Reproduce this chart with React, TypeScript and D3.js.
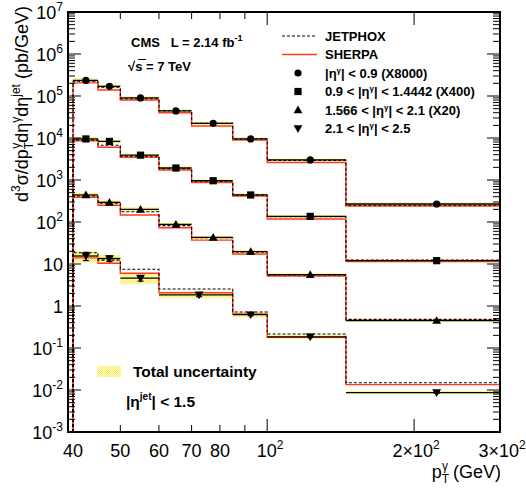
import React from "react";
import * as d3 from "d3";

// bin edges (GeV); the most forward photon bin merges 60-85
const binEdges = [40, 45, 50, 60, 70, 85, 100, 145, 300];
const binEdgesFwd = [40, 45, 50, 60, 85, 100, 145, 300];

// measured cross sections (already scaled)
const dataCentral = [2.35e5, 1.7e5, 9.0e4, 4.4e4, 2.23e4, 9.5e3, 3.0e3, 268];
const dataMid = [9.5e3, 8.3e3, 3.9e3, 1.93e3, 960, 440, 136, 12.0];
const dataEndcap = [440, 294, 200, 88, 43, 19.7, 5.6, 0.45];
const dataFwd = [15.5, 13.5, 4.6, 1.85, 0.62, 0.185, 0.0087];

const jetphoxCentral = [2.24e5, 1.61e5, 8.6e4, 4.47e4, 2.23e4, 9.47e3, 2.94e3, 250];
const jetphoxMid = [9.0e3, 6.7e3, 3.7e3, 1.86e3, 930, 440, 134, 12.4];
const jetphoxEndcap = [416, 279, 176, 82, 42, 19.3, 5.5, 0.48];
const jetphoxFwd = [18.5, 12.4, 7.5, 2.54, 0.72, 0.215, 0.0149];

const sherpaCentral = [2.05e5, 1.39e5, 8.0e4, 4.0e4, 1.93e4, 8.9e3, 2.6e3, 240];
const sherpaMid = [8.6e3, 6.0e3, 3.47e3, 1.73e3, 865, 417, 118, 11.5];
const sherpaEndcap = [387, 250, 147, 73, 37, 17.3, 5.2, 0.46];
const sherpaFwd = [14.0, 10.4, 6.0, 2.07, 0.65, 0.18, 0.0134];

// total uncertainty (relative)
const uncCentral = [0.12, 0.1, 0.09, 0.09, 0.09, 0.09, 0.08, 0.08];
const uncMid = [0.12, 0.1, 0.09, 0.09, 0.09, 0.09, 0.08, 0.08];
const uncEndcap = [0.13, 0.13, 0.13, 0.1, 0.1, 0.1, 0.08, 0.08];
const uncFwd = [0.3, 0.22, 0.28, 0.18, 0.14, 0.11, 0.09];
// statistical (relative), only visible for the forward bin
const statFwd = [0.22, 0.15, 0.15, 0.1, 0.05, 0.04, 0.04];

const series = [
  { edges: binEdges, data: dataCentral, jet: jetphoxCentral, sh: sherpaCentral, unc: uncCentral, stat: null, marker: "circle" },
  { edges: binEdges, data: dataMid, jet: jetphoxMid, sh: sherpaMid, unc: uncMid, stat: null, marker: "square" },
  { edges: binEdges, data: dataEndcap, jet: jetphoxEndcap, sh: sherpaEndcap, unc: uncEndcap, stat: null, marker: "up" },
  { edges: binEdgesFwd, data: dataFwd, jet: jetphoxFwd, sh: sherpaFwd, unc: uncFwd, stat: statFwd, marker: "down" },
];

const yTickExps = [7, 6, 5, 4, 3, 2, 1, 0, -1, -2, -3];
const xMinor = [50, 60, 70, 80, 90];
const xMajor = [100, 200];

const W = 526;
const H = 488;
const left = 68, right = 500, top = 12, bottom = 432;
const font = "'Liberation Sans', Arial, sans-serif";
const RED = "#ff3a1e";

const x = d3.scaleLog().domain([39.06, 300]).range([left, right]);
const y = d3.scaleLog().domain([1e-3, 1e7]).range([bottom, top]);

function histPath(edges: number[], vals: number[]) {
  let p = `M${x(edges[0])},${y(1e-3)}`;
  vals.forEach((v, i) => {
    p += `L${x(edges[i])},${y(v)}L${x(edges[i + 1])},${y(v)}`;
  });
  p += `L${x(edges[edges.length - 1])},${y(1e-3)}`;
  return p;
}

function Marker({ type, cx, cy }: { type: string; cx: number; cy: number }) {
  if (type === "circle") return <circle cx={cx} cy={cy} r={3.6} fill="#000" />;
  if (type === "square") return <rect x={cx - 3.6} y={cy - 3.6} width={7.2} height={7.2} fill="#000" />;
  const s = 4.4;
  if (type === "up")
    return <path d={`M${cx},${cy - s}L${cx + s},${cy + s * 0.75}L${cx - s},${cy + s * 0.75}Z`} fill="#000" />;
  return <path d={`M${cx},${cy + s}L${cx + s},${cy - s * 0.75}L${cx - s},${cy - s * 0.75}Z`} fill="#000" />;
}

function Eta({ sup, rest }: { sup: string; rest: string }) {
  return (
    <>
      |η<tspan dy={-5} fontSize={8}>{sup}</tspan>
      <tspan dy={5}>{rest}</tspan>
    </>
  );
}

export default function App() {
  const legendRows = [36, 54.5, 73, 91.5, 110, 128.5];
  return (
    <div style={{ position: "absolute", left: 0, top: 0 }}>
      <svg width={W} height={H} style={{ display: "block", background: "#fff" }} fontFamily={font}>
        <defs>
          <pattern id="unc" width={2} height={2} patternUnits="userSpaceOnUse">
            <rect width={2} height={2} fill="#fffcc4" />
            <rect width={1} height={1} fill="#f8ee6a" />
            <rect x={1} y={1} width={1} height={1} fill="#f8ee6a" />
          </pattern>
          <clipPath id="plot">
            <rect x={left} y={top} width={right - left} height={bottom - top} />
          </clipPath>
        </defs>

        <g clipPath="url(#plot)">
          {/* uncertainty bands */}
          {series.map((s, si) =>
            s.data.map((v, i) => (
              <rect
                key={`b${si}-${i}`}
                x={x(s.edges[i])}
                width={x(s.edges[i + 1]) - x(s.edges[i])}
                y={y(v * (1 + s.unc[i]))}
                height={y(v * (1 - s.unc[i])) - y(v * (1 + s.unc[i]))}
                fill="url(#unc)"
              />
            ))
          )}
          {/* SHERPA */}
          {series.map((s, si) => (
            <path key={`s${si}`} d={histPath(s.edges, s.sh)} fill="none" stroke={RED} strokeWidth={1.4} />
          ))}
          {/* JETPHOX */}
          {series.map((s, si) => (
            <path key={`j${si}`} d={histPath(s.edges, s.jet)} fill="none" stroke="#000" strokeWidth={1.1} strokeDasharray="3,2" />
          ))}
          {/* data */}
          {series.map((s, si) =>
            s.data.map((v, i) => {
              const cx = x((s.edges[i] + s.edges[i + 1]) / 2);
              const cy = y(v);
              return (
                <g key={`d${si}-${i}`}>
                  <line x1={x(s.edges[i])} x2={x(s.edges[i + 1])} y1={cy} y2={cy} stroke="#000" strokeWidth={1.3} />
                  {s.stat && (
                    <g stroke="#000" strokeWidth={1.2}>
                      <line x1={cx} x2={cx} y1={y(v * (1 + s.stat[i]))} y2={y(v * (1 - s.stat[i]))} />
                      <line x1={cx - 3} x2={cx + 3} y1={y(v * (1 + s.stat[i]))} y2={y(v * (1 + s.stat[i]))} />
                      <line x1={cx - 3} x2={cx + 3} y1={y(v * (1 - s.stat[i]))} y2={y(v * (1 - s.stat[i]))} />
                    </g>
                  )}
                  <Marker type={s.marker} cx={cx} cy={cy} />
                </g>
              );
            })
          )}
        </g>

        {/* axes frame */}
        <rect x={left} y={top} width={right - left} height={bottom - top} fill="none" stroke="#000" strokeWidth={2} />

        {/* ticks */}
        <g stroke="#000" strokeWidth={1}>
          {yTickExps.map((e) => (
            <g key={`yt${e}`}>
              <line x1={left} x2={left + 13} y1={y(10 ** e)} y2={y(10 ** e)} />
              <line x1={right} x2={right - 13} y1={y(10 ** e)} y2={y(10 ** e)} />
            </g>
          ))}
          {d3.range(-3, 7).flatMap((e) =>
            d3.range(2, 10).map((k) => (
              <g key={`ym${e}-${k}`}>
                <line x1={left} x2={left + 7} y1={y(k * 10 ** e)} y2={y(k * 10 ** e)} />
                <line x1={right} x2={right - 7} y1={y(k * 10 ** e)} y2={y(k * 10 ** e)} />
              </g>
            ))
          )}
          {xMinor.map((v) => (
            <g key={`xm${v}`}>
              <line x1={x(v)} x2={x(v)} y1={bottom} y2={bottom - 7} />
              <line x1={x(v)} x2={x(v)} y1={top} y2={top + 7} />
            </g>
          ))}
          {xMajor.map((v) => (
            <g key={`xM${v}`}>
              <line x1={x(v)} x2={x(v)} y1={bottom} y2={bottom - 13} />
              <line x1={x(v)} x2={x(v)} y1={top} y2={top + 13} />
            </g>
          ))}
        </g>

        {/* y tick labels */}
        <g fontSize={18} textAnchor="end" fill="#000">
          {yTickExps.map((e) => (
            <text key={`yl${e}`} x={63} y={y(10 ** e) + 6.5}>
              {e === 0 ? "1" : "10"}
              {e !== 0 && e !== 1 && (
                <tspan dy={-8} fontSize={12}>
                  {e < 0 ? `-${-e}` : `${e}`}
                </tspan>
              )}
            </text>
          ))}
        </g>

        {/* x tick labels */}
        <g fontSize={18} textAnchor="middle" fill="#000">
          {[40, 50, 60, 70, 80].map((v) => (
            <text key={`xl${v}`} x={x(v)} y={457}>
              {v}
            </text>
          ))}
          <text x={x(100) + 3} y={457}>
            10<tspan dy={-8} fontSize={12}>2</tspan>
          </text>
          <text x={x(200) + 2} y={457}>
            2×10<tspan dy={-8} fontSize={12}>2</tspan>
          </text>
          <text x={x(300) + 2} y={457}>
            3×10<tspan dy={-8} fontSize={12}>2</tspan>
          </text>
        </g>

        {/* axis titles */}
        <text x={501} y={478} fontSize={18} textAnchor="end">
          p<tspan dy={5} fontSize={12}>T</tspan>
          <tspan dx={-7} dy={-13} fontSize={12}>γ</tspan>
          <tspan dy={8}> (GeV)</tspan>
        </text>
        <text transform="rotate(-90)" x={-6} y={28} fontSize={18} textAnchor="end">
          d<tspan dy={-8} fontSize={12}>3</tspan>
          <tspan dy={8}>σ/dp</tspan>
          <tspan dy={5} fontSize={12}>T</tspan>
          <tspan dx={-7} dy={-13} fontSize={12}>γ</tspan>
          <tspan dy={8}>dη</tspan>
          <tspan dy={-8} fontSize={12}>γ</tspan>
          <tspan dy={8}>dη</tspan>
          <tspan dy={-8} fontSize={12}>jet</tspan>
          <tspan dy={8}> (pb/GeV)</tspan>
        </text>

        {/* CMS label */}
        <g fontSize={13} fontWeight="bold">
          <text x={131} y={47}>
            CMS{"\u00a0\u00a0\u00a0"}L = 2.14 fb<tspan dy={-6} fontSize={9}>-1</tspan>
          </text>
          <text x={128} y={71}>√s = 7 TeV</text>
          <line x1={138} x2={146} y1={59.5} y2={59.5} stroke="#000" strokeWidth={1} />
        </g>

        {/* legend */}
        <g fontSize={13} fontWeight="bold">
          <line x1={282} x2={317} y1={legendRows[0]} y2={legendRows[0]} stroke="#000" strokeWidth={1} strokeDasharray="3,2" />
          <text x={325} y={legendRows[0] + 4.5}>JETPHOX</text>
          <line x1={282} x2={317} y1={legendRows[1]} y2={legendRows[1]} stroke={RED} strokeWidth={1.3} />
          <text x={325} y={legendRows[1] + 4.5}>SHERPA</text>
          <Marker type="circle" cx={298} cy={legendRows[2]} />
          <text x={325} y={legendRows[2] + 4.5}>
            <Eta sup="γ" rest="| < 0.9 (X8000)" />
          </text>
          <Marker type="square" cx={298} cy={legendRows[3]} />
          <text x={325} y={legendRows[3] + 4.5}>
            0.9 &lt; <Eta sup="γ" rest="| < 1.4442 (X400)" />
          </text>
          <Marker type="up" cx={298} cy={legendRows[4]} />
          <text x={325} y={legendRows[4] + 4.5}>
            1.566 &lt; <Eta sup="γ" rest="| < 2.1 (X20)" />
          </text>
          <Marker type="down" cx={298} cy={legendRows[5]} />
          <text x={325} y={legendRows[5] + 4.5}>
            2.1 &lt; <Eta sup="γ" rest="| < 2.5" />
          </text>
        </g>

        <g fontWeight="bold" fontSize={15.5}>
          <rect x={97} y={366} width={24} height={11} fill="url(#unc)" />
          <text x={133} y={377}>Total uncertainty</text>
          <text x={126} y={407}>
            |η<tspan dy={-7} fontSize={10}>jet</tspan>
            <tspan dy={7}>| &lt; 1.5</tspan>
          </text>
        </g>
      </svg>
    </div>
  );
}
